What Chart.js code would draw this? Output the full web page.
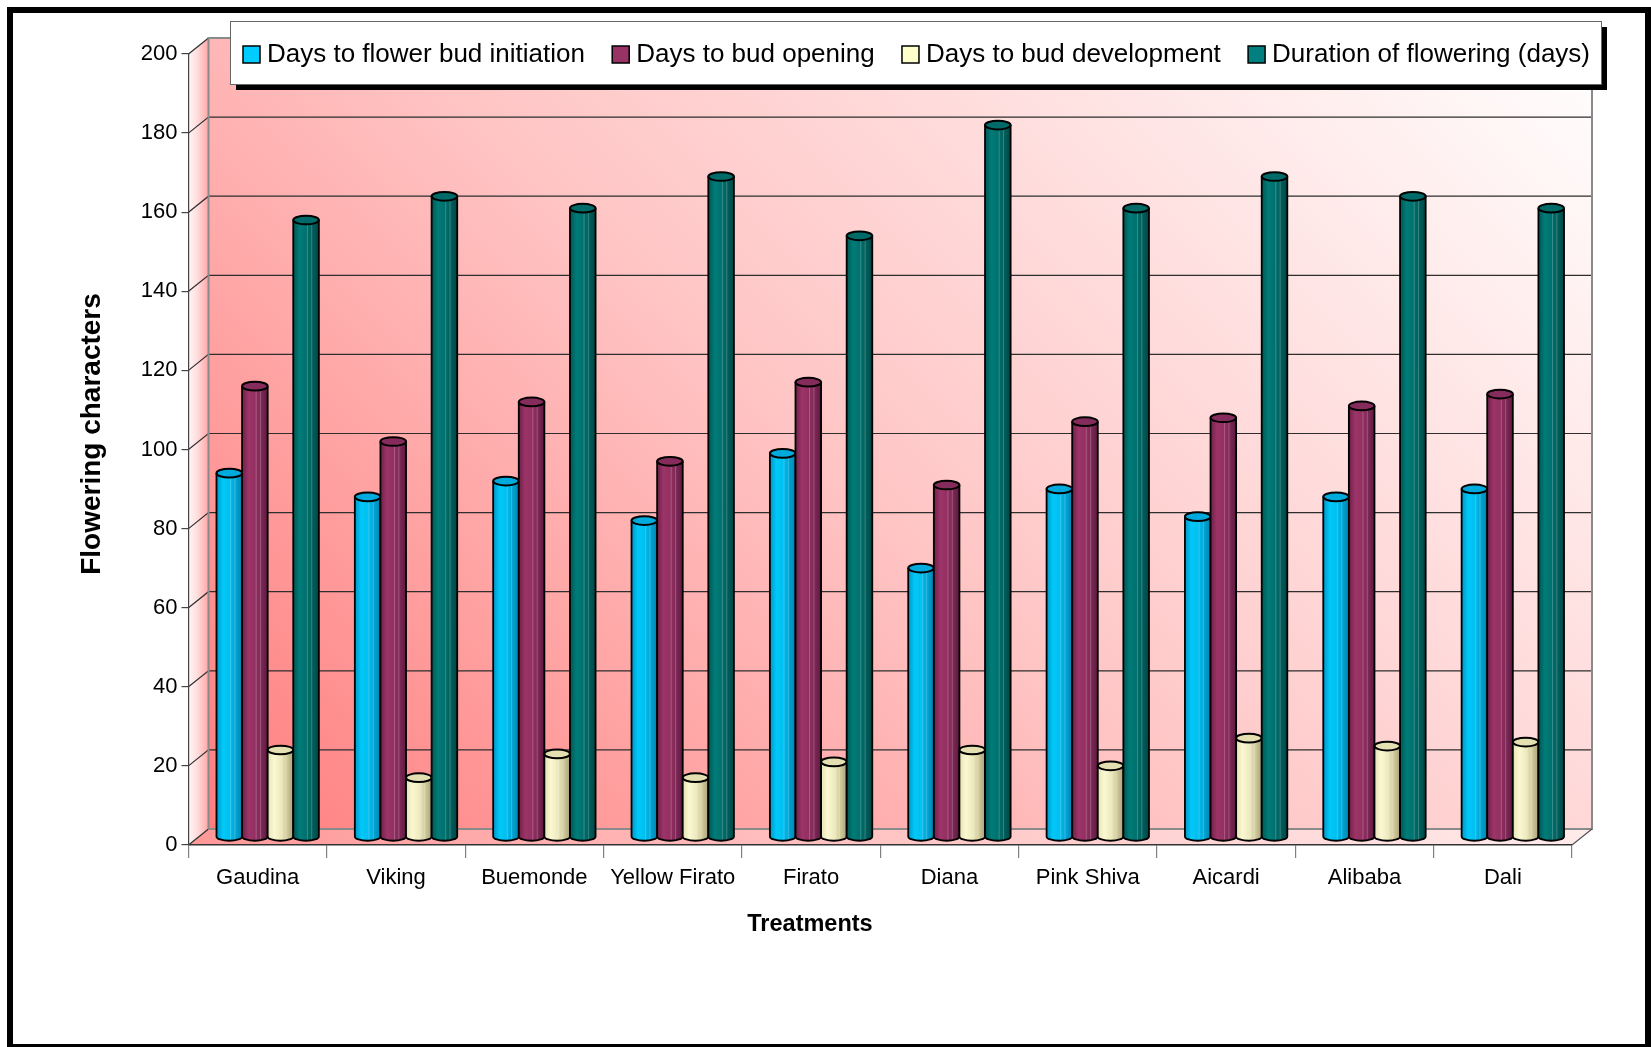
<!DOCTYPE html>
<html>
<head>
<meta charset="utf-8">
<title>Flowering characters</title>
<script src="https://cdn.jsdelivr.net/npm/chart.js@4.4.1/dist/chart.umd.min.js"></script>
<style>
  html, body { margin: 0; padding: 0; background: #fff; }
  #wrap { width: 1651px; height: 1047px; }
</style>
</head>
<body>
<div id="wrap"><canvas id="flowerChart" width="1651" height="1047"></canvas></div>
<script>
// ---------- data ----------
const categories = ["Gaudina", "Viking", "Buemonde", "Yellow Firato", "Firato",
                    "Diana", "Pink Shiva", "Aicardi", "Alibaba", "Dali"];
const budInitiation   = [92, 86, 90, 80, 97, 68, 88, 81, 86, 88];
const budOpening      = [114, 100, 110, 95, 115, 89, 105, 106, 109, 112];
const budDevelopment  = [22, 15, 21, 15, 19, 22, 18, 25, 23, 24];
const floweringDays   = [156, 162, 159, 167, 152, 180, 159, 167, 162, 159];
const seriesLabels = ["Days to flower bud initiation", "Days to bud opening",
                      "Days to bud development", "Duration of flowering (days)"];
const yMin = 0, yMax = 200, yStep = 20;
const xTitle = "Treatments";
const yTitle = "Flowering characters";

// ---------- look ----------
const FONT = '"Liberation Sans", Arial, sans-serif';
const DEPTH_X = 20, DEPTH_Y = -16;   // depth of the 3d box

const swatchColors = ["#00ccff", "#993366", "#ffffcc", "#008080"];
const shadeStops = [
    ["#0096c8", "#00c8f8", "#00c0f0", "#00a4d4", "#0084b0"],
    ["#6e2048", "#9c3468", "#943062", "#7e2856", "#5c1a40"],
    ["#e6e2b4", "#fbf8d2", "#efebc0", "#d2cb9c", "#aaa27a"],
    ["#005654", "#007c78", "#00716e", "#005f5c", "#004644"],
];
const capColors = ["#00aadc", "#862c5c", "#e4e0b2", "#006a68"];

// walls, floor and gridlines of the 3d box
const box3d = {
    id: "box3d",
    beforeDraw(chart) {
        const { ctx, chartArea: a } = chart;
        const ys = chart.scales.y;
        const L = a.left, R = a.right, T = a.top, B = a.bottom;
        const dx = DEPTH_X, dy = DEPTH_Y;
        ctx.save();
        ctx.fillStyle = "#fff";
        ctx.fillRect(0, 0, chart.width, chart.height);

        // back wall
        let g = ctx.createLinearGradient(L + dx, B + dy, R + dx - 300, T + dy - 300);
        g.addColorStop(0, "#ff7e7e");
        g.addColorStop(0.45, "#ffc4c4");
        g.addColorStop(1, "#ffffff");
        ctx.fillStyle = g;
        ctx.fillRect(L + dx, T + dy, R - L, B - T);

        // left wall
        g = ctx.createLinearGradient(L, 0, L + dx, 0);
        g.addColorStop(0, "#fff6f6");
        g.addColorStop(0.45, "#ffdcdc");
        g.addColorStop(1, "#ffa6a6");
        ctx.fillStyle = g;
        ctx.beginPath();
        ctx.moveTo(L, T); ctx.lineTo(L + dx, T + dy);
        ctx.lineTo(L + dx, B + dy); ctx.lineTo(L, B);
        ctx.closePath();
        ctx.fill();

        // floor
        g = ctx.createLinearGradient(L, 0, R, 0);
        g.addColorStop(0, "#ff9898");
        g.addColorStop(0.5, "#ffc4c4");
        g.addColorStop(1, "#ffeaea");
        ctx.fillStyle = g;
        ctx.beginPath();
        ctx.moveTo(L, B); ctx.lineTo(R, B);
        ctx.lineTo(R + dx, B + dy); ctx.lineTo(L + dx, B + dy);
        ctx.closePath();
        ctx.fill();

        // gridlines: diagonal on the left wall + horizontal on the back wall
        ys.ticks.forEach((t) => {
            const py = ys.getPixelForValue(t.value);
            ctx.strokeStyle = "#2e2e2e";
            ctx.lineWidth = 1.2;
            ctx.beginPath();
            ctx.moveTo(L, py); ctx.lineTo(L + dx, py + dy);
            if (t.value !== yMin && t.value !== yMax) ctx.lineTo(R + dx, py + dy);
            ctx.stroke();
        });

        // box edges
        ctx.strokeStyle = "#8a8a8a";
        ctx.lineWidth = 2;
        ctx.beginPath();
        ctx.moveTo(L + dx, B + dy); ctx.lineTo(L + dx, T + dy);
        ctx.lineTo(R + dx, T + dy); ctx.lineTo(R + dx, B + dy);
        ctx.lineTo(L + dx, B + dy);
        ctx.stroke();
        ctx.strokeStyle = "#555";
        ctx.lineWidth = 1.2;
        ctx.beginPath();
        ctx.moveTo(R, B); ctx.lineTo(R + dx, B + dy);
        ctx.stroke();
        ctx.restore();
    },
};

function drawCylinder(ctx, bar, di) {
    const { x, y, base, width } = bar.getProps(["x", "y", "base", "width"], true);
    const rx = width / 2, ry = Math.max(3, width * 0.17);
    const left = x - rx, right = x + rx;
    const g = ctx.createLinearGradient(left, 0, right, 0);
    const stops = shadeStops[di];
    stops.forEach((c, k) => g.addColorStop(k / (stops.length - 1), c));

    ctx.beginPath();
    ctx.moveTo(left, y);
    ctx.lineTo(left, base);
    ctx.ellipse(x, base, rx, ry, 0, Math.PI, 0, true);
    ctx.lineTo(right, y);
    ctx.closePath();
    ctx.fillStyle = g;
    ctx.fill();

    // faint vertical stripes
    ctx.lineWidth = 1;
    ctx.strokeStyle = "rgba(255,255,255,0.22)";
    [0.55, 0.72].forEach((f) => {
        ctx.beginPath();
        ctx.moveTo(left + width * f, y);
        ctx.lineTo(left + width * f, base + ry * 0.8);
        ctx.stroke();
    });

    ctx.beginPath();
    ctx.moveTo(left, y);
    ctx.lineTo(left, base);
    ctx.ellipse(x, base, rx, ry, 0, Math.PI, 0, true);
    ctx.lineTo(right, y);
    ctx.strokeStyle = "#000";
    ctx.lineWidth = 1.8;
    ctx.stroke();

    ctx.beginPath();
    ctx.ellipse(x, y, rx, ry, 0, 0, Math.PI * 2);
    ctx.fillStyle = capColors[di];
    ctx.fill();
    ctx.lineWidth = 2;
    ctx.stroke();
}

// bars drawn as cylinders halfway into the box
const cylinders = {
    id: "cylinders",
    beforeDatasetsDraw(chart) {
        const ctx = chart.ctx;
        ctx.save();
        ctx.translate(DEPTH_X / 2, DEPTH_Y / 2);
        chart.data.labels.forEach((lbl, i) => {
            chart.data.datasets.forEach((ds, di) => {
                const bar = chart.getDatasetMeta(di).data[i];
                if (bar) drawCylinder(ctx, bar, di);
            });
        });
        ctx.restore();
        return false;
    },
};

// legend box with shadow, axis titles, outer frame
const legendBox = {
    id: "legendBox",
    afterDraw(chart) {
        const ctx = chart.ctx;
        const bx = 230, by = 21, bw = 1371, bh = 63;
        ctx.save();
        ctx.fillStyle = "#000";
        ctx.fillRect(bx + 6, by + 6, bw, bh);
        ctx.fillStyle = "#fff";
        ctx.fillRect(bx, by, bw, bh);
        ctx.strokeStyle = "#666";
        ctx.lineWidth = 1;
        ctx.strokeRect(bx + 0.5, by + 0.5, bw, bh);

        ctx.font = "26px " + FONT;
        ctx.textBaseline = "middle";
        const dsets = chart.data.datasets;
        const sw = 17, tg = 7;
        const widths = dsets.map((d) => ctx.measureText(d.label).width);
        const start = bx + 13, end = bx + bw - 11;
        const used = widths.reduce((s, w) => s + w + sw + tg, 0);
        const gap = (end - start - used) / (dsets.length - 1);
        const cy = by + bh / 2 + 2;
        let xx = start;
        dsets.forEach((d, i) => {
            ctx.fillStyle = swatchColors[i];
            ctx.fillRect(xx, cy - sw / 2, sw, sw);
            ctx.strokeStyle = "#000";
            ctx.lineWidth = 1.5;
            ctx.strokeRect(xx, cy - sw / 2, sw, sw);
            ctx.fillStyle = "#000";
            ctx.fillText(d.label, xx + sw + tg, cy);
            xx += sw + tg + widths[i] + gap;
        });

        // axis titles
        ctx.textAlign = "center";
        ctx.font = "bold 23.5px " + FONT;
        ctx.fillText(xTitle, 810, 925);
        ctx.save();
        ctx.translate(92, 434);
        ctx.rotate(-Math.PI / 2);
        ctx.font = "bold 28px " + FONT;
        ctx.fillText(yTitle, 0, 0);
        ctx.restore();

        // outer frame
        ctx.fillStyle = "#000";
        ctx.fillRect(7, 7, 1644, 6);
        ctx.fillRect(7, 7, 6, 1040);
        ctx.fillRect(1645, 7, 6, 1040);
        ctx.fillRect(7, 1044, 1644, 3);
        ctx.restore();
    },
};

const seriesValues = [budInitiation, budOpening, budDevelopment, floweringDays];

new Chart(document.getElementById("flowerChart"), {
    type: "bar",
    data: {
        labels: categories,
        datasets: seriesValues.map((vals, i) => ({
            label: seriesLabels[i],
            data: vals,
            backgroundColor: swatchColors[i],
        })),
    },
    options: {
        responsive: false,
        animation: false,
        layout: { padding: { left: 60, right: 79, top: 54, bottom: 102 } },
        datasets: { bar: { categoryPercentage: 0.74, barPercentage: 1 } },
        plugins: {
            legend: { display: false },
            tooltip: { enabled: false },
        },
        scales: {
            x: {
                grid: { drawOnChartArea: false, offset: true, tickLength: 13, color: "#808080", lineWidth: 1.2 },
                border: { display: true, color: "#333", width: 1.5 },
                ticks: { font: { family: FONT, size: 22 }, color: "#000", padding: 7, maxRotation: 0, autoSkip: false },
                afterFit(s) { s.height = 100; },
            },
            y: {
                min: yMin, max: yMax,
                ticks: { stepSize: yStep, font: { family: FONT, size: 22 }, color: "#000", padding: 4 },
                grid: { drawOnChartArea: false, tickLength: 7, color: "#444", lineWidth: 1.2 },
                border: { display: true, color: "#444", width: 1.2 },
                afterFit(s) { s.width = 128.5; },
            },
        },
    },
    plugins: [box3d, cylinders, legendBox],
});
</script>
</body>
</html>
